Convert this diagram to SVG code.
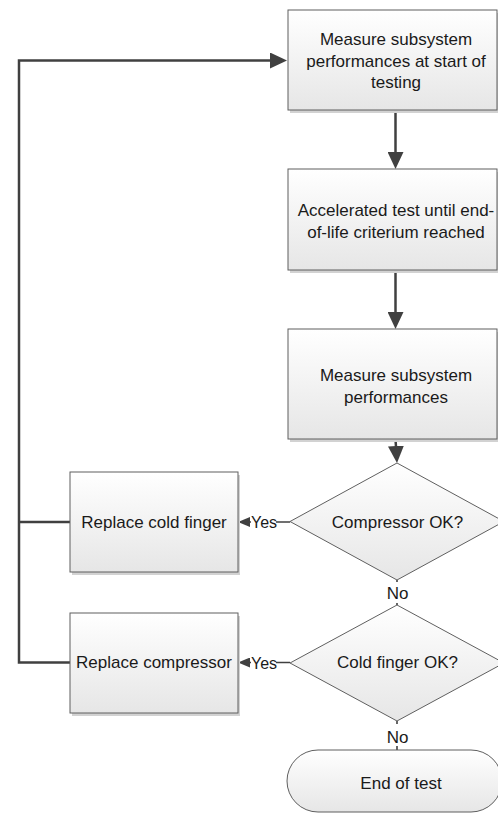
<svg xmlns="http://www.w3.org/2000/svg" width="498" height="816" viewBox="0 0 498 816">
<defs>
<linearGradient id="g" x1="0" y1="0" x2="0" y2="1">
<stop offset="0" stop-color="#ffffff"/>
<stop offset="1" stop-color="#e6e6e6"/>
</linearGradient>
<marker id="big" markerUnits="userSpaceOnUse" markerWidth="17" markerHeight="16" viewBox="0 0 17 16" refX="9" refY="8" orient="auto">
<path d="M0,0 L17,8 L0,16 z" fill="#404040"/>
</marker>
<marker id="small" markerUnits="userSpaceOnUse" markerWidth="12" markerHeight="10" viewBox="0 0 12 10" refX="0" refY="5" orient="auto">
<path d="M0,0 L12,5 L0,10 z" fill="#404040"/>
</marker>
<style>
.box{fill:url(#g);stroke:#5f5f5f;stroke-width:1}
.sh{fill:#d2d2d2}
.t{font-family:"Liberation Sans",Arial,sans-serif;font-size:17px;fill:#1a1a1a;text-anchor:middle}
.lbl{font-family:"Liberation Sans",Arial,sans-serif;font-size:16px;fill:#1a1a1a;text-anchor:middle}
.thick{fill:none;stroke:#404040;stroke-width:2.5}
.thin{fill:none;stroke:#404040;stroke-width:1.6}
.bg{fill:#ffffff}
</style>
</defs>

<g id="connectors">
<path class="thick" d="M70 662.5 H19 V60.5 H279" marker-end="url(#big)"/>
<path class="thick" d="M70 522 H19"/>
<path class="thick" d="M395.5 110 V161" marker-end="url(#big)"/>
<path class="thick" d="M395.5 270 V321" marker-end="url(#big)"/>
<path class="thick" d="M395.5 439 L396.5 455" marker-end="url(#big)"/>
<path class="thin" d="M290 522 H250" marker-end="url(#small)"/>
<path class="thin" d="M290 662.5 H250" marker-end="url(#small)"/>
<path class="thin" d="M397 580 V605"/>
<path class="thin" d="M397 721 V750"/>
<rect class="bg" x="251" y="512" width="25" height="20"/>
<text class="lbl" x="264" y="528">Yes</text>
<rect class="bg" x="251" y="652.5" width="25" height="20"/>
<text class="lbl" x="264" y="668.5">Yes</text>
<rect class="bg" x="385" y="582" width="24" height="21"/>
<text class="t" x="397.5" y="599">No</text>
<rect class="bg" x="385" y="724" width="24" height="22"/>
<text class="t" x="397.5" y="743">No</text>
</g>

<g id="n1">
<rect class="sh" x="290" y="13" width="209" height="100"/>
<rect class="box" x="288" y="10" width="209" height="100"/>
<text class="t" x="396" y="45">Measure subsystem</text>
<text class="t" x="396" y="67">performances at start of</text>
<text class="t" x="396" y="88">testing</text>
</g>

<g id="n2">
<rect class="sh" x="290" y="172" width="209" height="101"/>
<rect class="box" x="288" y="169" width="209" height="101"/>
<text class="t" x="396" y="216">Accelerated test until end-</text>
<text class="t" x="396" y="237.5">of-life criterium reached</text>
</g>

<g id="n3">
<rect class="sh" x="290" y="332" width="209" height="110"/>
<rect class="box" x="288" y="329" width="209" height="110"/>
<text class="t" x="396" y="381">Measure subsystem</text>
<text class="t" x="396" y="402.5">performances</text>
</g>

<g id="d1">
<polygon class="box" points="397,463 504,521.5 397,580 290,521.5"/>
<text class="t" x="397.5" y="528">Compressor OK?</text>
</g>

<g id="d2">
<polygon class="box" points="397,605 504,663 397,721 290,663"/>
<text class="t" x="397.5" y="668">Cold finger OK?</text>
</g>

<g id="r1">
<rect class="sh" x="72" y="475" width="168" height="100"/>
<rect class="box" x="70" y="472" width="168" height="100"/>
<text class="t" x="154" y="528">Replace cold finger</text>
</g>

<g id="r2">
<rect class="sh" x="72" y="616" width="168" height="100"/>
<rect class="box" x="70" y="613" width="168" height="100"/>
<text class="t" x="154" y="668">Replace compressor</text>
</g>

<g id="end">
<rect class="box" x="287" y="750" width="215" height="62" rx="31" ry="31"/>
<text class="t" x="401" y="789">End of test</text>
</g>
</svg>
